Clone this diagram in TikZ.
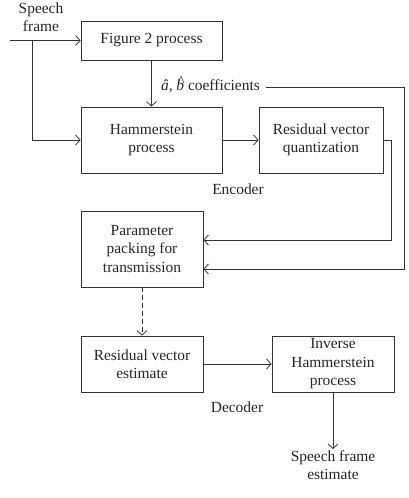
\documentclass[tikz,border=0pt]{standalone}
\usepackage{amsmath}
\usepackage{fontspec}
\setmainfont{Liberation Serif}
\usepackage{tikz}
\usetikzlibrary{positioning}
\usetikzlibrary{arrows.meta}

\newcommand{\hatb}{\textit{\ooalign{b\cr\hidewidth\raisebox{0.22em}{\^{}}\hidewidth\cr}}}

\begin{document}
\begin{tikzpicture}[
	  x=1bp, y=-1bp,
	  every node/.style = {align=center, text=black!85, font=\fontsize{15.5}{18.5}\selectfont},
	  block/.style = {shape=rectangle, draw=black!80, line width=0.8pt, inner sep=2pt},
	  plain/.style = {inner sep=1pt},
	  arr/.style = {-{Straight Barb[length=4.5bp, width=10bp]}, draw=black!80, line width=0.8pt},
	]
	  \useasboundingbox (0,0) rectangle (408,498);

	  \node[block, minimum width=141bp, minimum height=39bp] (fig2) at (151.5,40.5) {Figure 2 process};
	  \node[block, minimum width=141bp, minimum height=66bp] (ham) at (151.5,140) {Hammerstein\\process};
	  \node[block, minimum width=124bp, minimum height=66bp] (rvq) at (321,140) {Residual vector\\quantization};
	  \node[block, minimum width=122bp, minimum height=76bp] (pack) at (142,249) {Parameter\\packing for\\transmission};
	  \node[block, minimum width=122bp, minimum height=56bp] (rve) at (142,364) {Residual vector\\estimate};
	  \node[block, minimum width=122bp, minimum height=56bp] (inv) at (333,364) {Inverse\\Hammerstein\\process};

	  \node[plain] (src) at (41,17) {Speech\\frame};
	  \node[plain, anchor=east] (coef) at (261,86) {\textit{â}, \hatb{} coefficients};
	  \node[plain] (enc) at (238,189) {Encoder};
	  \node[plain] (dec) at (237,407) {Decoder};
	  \node[plain, anchor=north] (out) at (333,449) {Speech frame\\estimate};

	  \coordinate (in) at (10,40.5);
	  \coordinate (br) at (32,40.5);
	  \coordinate (c1) at (266,87);
	  \coordinate (c2) at (404,87);

	  \draw[arr] (in) -- (fig2.west);
	  \draw[arr] (br) |- (ham.west);
	  \draw[arr] (fig2) -- (ham);
	  \draw[arr] (ham) -- (rvq);
	  \draw[arr] (rvq.east) -- ++(8,0) |- ([yshift=9bp]pack.east);
	  \draw[arr] (c1) -- (c2) |- ([yshift=-20bp]pack.east);
	  \draw[arr, dash pattern=on 5bp off 3bp] (pack) -- (rve);
	  \draw[arr] (rve) -- (inv);
	  \draw[arr] (inv) -- (out);
	\end{tikzpicture}
\end{document}
